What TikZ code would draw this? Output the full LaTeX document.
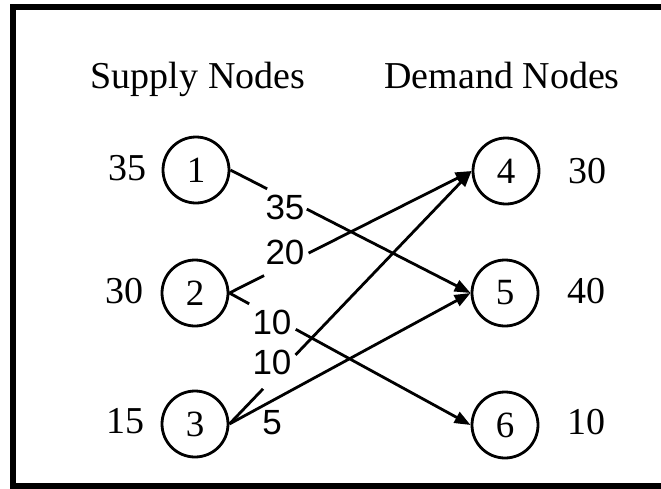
\documentclass[tikz,border=0pt]{standalone}
\usepackage{fontspec}
\setmainfont{Liberation Serif}
\newfontfamily\lblfont{Liberation Sans}
\usetikzlibrary{arrows.meta}
\begin{document}
\begin{tikzpicture}[x=1pt,y=-1pt,
  nd/.style={draw, circle, line width=2.8pt, minimum size=66pt, inner sep=0pt, font=\fontsize{37}{40}\selectfont},
  txt/.style={anchor=base, inner sep=0pt, font=\fontsize{38}{40}\selectfont},
  lbl/.style={inner sep=0pt, font=\lblfont\fontsize{35}{38}\selectfont},
  edge/.style={line width=2.8pt},
  arr/.style={edge, -{Triangle[length=16pt,width=12pt]}}]
\useasboundingbox (0,0) rectangle (661,488);
\draw[line width=6pt] (661,7) -- (13,7) -- (13,485.5) -- (661,485.5);
% nodes
\node[nd] (n1) at (196,170) {1};
\node[nd] (n2) at (195,293) {2};
\node[nd] (n3) at (195,424) {3};
\node[nd] (n4) at (506,171) {4};
\node[nd] (n5) at (505,293) {5};
\node[nd] (n6) at (505,425) {6};
% headers
\node[txt] (hs) at (198,88) {Supply Nodes};
\node[txt] (hd) at (502,88) {Demand Nodes};
% supplies and demands
\node[txt] (s1) at (127,180) {35};
\node[txt] (s2) at (124,303) {30};
\node[txt] (s3) at (125,433) {15};
\node[txt] (d4) at (587,183) {30};
\node[txt] (d5) at (586,303) {40};
\node[txt] (d6) at (586,434) {10};
% 1 -> 5
\path (n1.east) -- coordinate[pos=0.153] (a1) coordinate[pos=0.318] (a2) (n5.west);
\draw[edge] (n1.east) -- (a1);
\draw[arr] (a2) -- (n5.west);
\node[lbl] (l15) at (285,207) {35};
% 2 -> 4
\path (n2.east) -- coordinate[pos=0.143] (b1) coordinate[pos=0.327] (b2) (n4.west);
\draw[edge] (n2.east) -- (b1);
\draw[arr] (b2) -- (n4.west);
\node[lbl] (l24) at (285,252) {20};
% 2 -> 6
\path (n2.east) -- coordinate[pos=0.082] (c1) coordinate[pos=0.275] (c2) (n6.west);
\draw[edge] (n2.east) -- (c1);
\draw[arr] (c2) -- (n6.west);
\node[lbl] (l26) at (272,322) {10};
% 3 -> 4
\path (n3.east) -- coordinate[pos=0.139] (e1) coordinate[pos=0.273] (e2) (n4.west);
\draw[edge] (n3.east) -- (e1);
\draw[arr] (e2) -- (n4.west);
\node[lbl] (l34) at (272,362) {10};
% 3 -> 5
\draw[arr] (n3.east) -- (n5.west);
\node[lbl] (l35) at (272,423) {5};
\end{tikzpicture}
\end{document}
